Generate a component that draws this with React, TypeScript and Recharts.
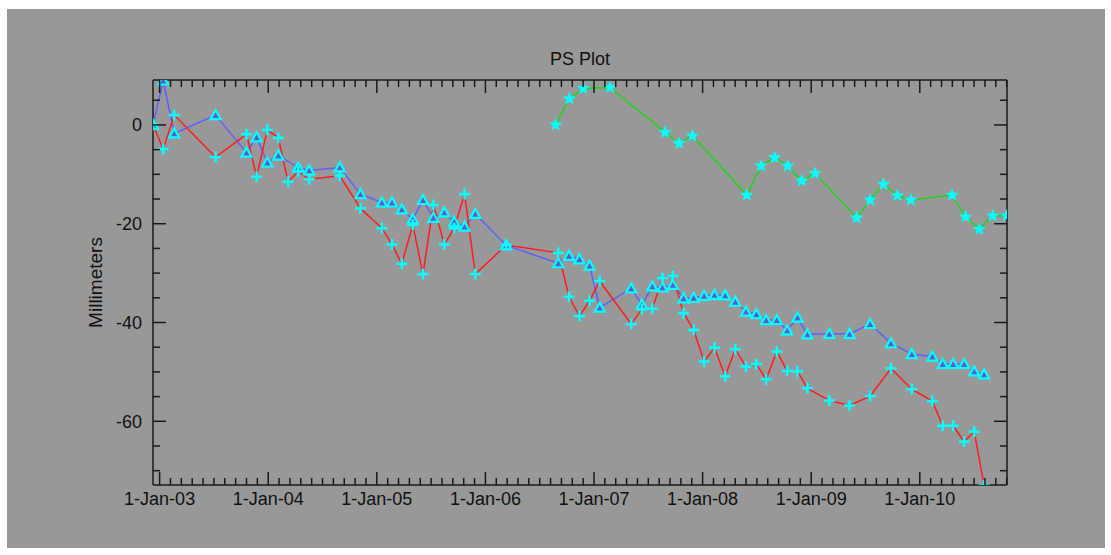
import { LineChart, Line, XAxis, YAxis } from 'recharts'

// red (+) and blue (triangle) series share the same survey dates
const surveyDates = [
  '2002-12-10', '2003-01-13', '2003-02-19', '2003-07-08', '2003-10-20', '2003-11-23', '2003-12-29',
  '2004-02-04', '2004-03-08', '2004-04-11', '2004-05-18', '2004-08-29', '2004-11-07',
  '2005-01-18', '2005-02-21', '2005-03-26', '2005-05-02', '2005-06-05', '2005-07-10', '2005-08-16',
  '2005-09-18', '2005-10-23', '2005-11-28', '2006-03-12', '2006-09-03', '2006-10-09', '2006-11-13',
  '2006-12-17', '2007-01-20', '2007-05-06', '2007-06-11', '2007-07-16', '2007-08-19', '2007-09-23',
  '2007-10-29', '2007-12-02', '2008-01-06', '2008-02-10', '2008-03-17', '2008-04-20', '2008-05-26',
  '2008-06-30', '2008-08-02', '2008-09-07', '2008-10-12', '2008-11-16', '2008-12-19', '2009-03-03',
  '2009-05-10', '2009-07-18', '2009-09-26', '2009-12-05', '2010-02-12', '2010-03-19', '2010-04-23',
  '2010-05-30', '2010-07-03', '2010-08-05',
]

const redValues = [
  0, -4.9, 2, -6.5, -1.9, -10.5, -1,
  -2.6, -11.5, -9.4, -11, -10.3, -16.9,
  -20.9, -24.2, -28.1, -20.2, -30.2, -16.2, -24.2,
  -20.9, -14, -30.2, -24.3, -25.9, -34.8, -38.7,
  -35.6, -31.6, -40.3, -37.3, -37.2, -31, -30.6,
  -38.1, -41.5, -47.9, -45.1, -50.9, -45.4, -48.9,
  -48.4, -51.5, -45.9, -49.8, -49.9, -53.3, -55.8,
  -56.8, -54.9, -49.3, -53.5, -55.9, -60.9, -60.9,
  -64.1, -62.1, -73,
]

const blueValues = [
  0, 9, -1.7, 2, -5.6, -2.5, -7.6,
  -6.2, null, -8.6, -9.2, -8.6, -14,
  -15.7, -15.7, -17.1, -19.1, -15.2, -18.8, -17.7,
  -19.6, -20.6, -18, -24.4, -28, -26.5, -27.2,
  -28.5, -37, -33.1, -36.4, -32.7, -32.9, -32.4,
  -35.1, -35, -34.6, -34.4, -34.5, -35.8, -37.8,
  -38.3, -39.5, -39.5, -41.6, -39, -42.4, -42.3,
  -42.3, -40.3, -44.2, -46.4, -46.9, -48.4, -48.4,
  -48.4, -49.9, -50.5,
]

// green (star) series
const greenDates = [
  '2006-08-25', '2006-10-10', '2006-11-26', '2007-02-24', '2007-08-28', '2007-10-14', '2007-11-28',
  '2008-05-29', '2008-07-16', '2008-08-31', '2008-10-14', '2008-11-30', '2009-01-14', '2009-06-03',
  '2009-07-18', '2009-09-01', '2009-10-18', '2009-12-02', '2010-04-20', '2010-06-04', '2010-07-20',
  '2010-09-03', '2010-10-20',
]

const greenValues = [
  0, 5.3, 7.4, 7.6, -1.5, -3.7, -2.2,
  -14.2, -8.3, -6.6, -8.3, -11.3, -9.8, -18.8,
  -15.2, -12, -14.3, -15.2, -14.2, -18.6, -21.1,
  -18.4, -18.4,
]

const majorYears = [2003, 2004, 2005, 2006, 2007, 2008, 2009, 2010]
const yMajor = [0, -20, -40, -60]

const X_DOMAIN: [number, number] = [2002.939, 2010.803]
const Y_DOMAIN: [number, number] = [-72.9, 9.1]

const toYear = (d: string) => {
  const [y, m, dd] = d.split('-').map(Number)
  const start = Date.UTC(y, 0, 1)
  const end = Date.UTC(y + 1, 0, 1)
  return y + (Date.UTC(y, m - 1, dd) - start) / (end - start)
}

const mainData = surveyDates.map((d, i) => ({ t: toYear(d), red: redValues[i], blue: blueValues[i] }))
const greenData = greenDates.map((d, i) => ({ t: toYear(d), green: greenValues[i] }))

// minor ticks every tenth of a year, every 5 mm
const xTicks: number[] = []
for (let k = 2002 * 10; k <= 2011 * 10; k++) {
  const v = k / 10
  if (v >= X_DOMAIN[0] && v <= X_DOMAIN[1] + 1e-6) xTicks.push(v)
}
const yTicks: number[] = []
for (let v = -70; v <= 5; v += 5) yTicks.push(v)

const AXIS = '#1a1a1a'
const CYAN = '#00ffff'
const FONT = '"Liberation Sans", Arial, sans-serif'

const isMajorX = (v: number) => majorYears.some((y) => Math.abs(y - v) < 1e-6)

const XTick = ({ x, y, payload, side }: any) => {
  const major = isMajorX(payload.value)
  const len = major ? 13 : 7
  const dir = side === 'bottom' ? -1 : 1
  const yr = Math.round(payload.value) % 100
  return (
    <g>
      <line x1={x} x2={x} y1={y} y2={y + dir * len} stroke={AXIS} strokeWidth={1.5} />
      {major && side === 'bottom' && (
        <text x={x} y={y + 20} textAnchor="middle" fontSize={18} fontFamily={FONT} fill="#111">
          {`1-Jan-${String(yr).padStart(2, '0')}`}
        </text>
      )}
    </g>
  )
}

const YTick = ({ x, y, payload, side }: any) => {
  const major = yMajor.includes(payload.value)
  const len = major ? 13 : 7
  const dir = side === 'left' ? 1 : -1
  return (
    <g>
      <line x1={x} x2={x + dir * len} y1={y} y2={y} stroke={AXIS} strokeWidth={1.5} />
      {major && side === 'left' && (
        <text x={x - 11} y={y + 6.5} textAnchor="end" fontSize={18} fontFamily={FONT} fill="#111">
          {payload.value}
        </text>
      )}
    </g>
  )
}

const PlusDot = ({ cx, cy }: any) => {
  if (cx == null || cy == null) return null
  return (
    <g>
      <line x1={cx - 5.5} x2={cx + 5.5} y1={cy} y2={cy} stroke={CYAN} strokeWidth={2.5} />
      <line x1={cx} x2={cx} y1={cy - 5.5} y2={cy + 5.5} stroke={CYAN} strokeWidth={2.5} />
    </g>
  )
}

const TriDot = ({ cx, cy }: any) => {
  if (cx == null || cy == null) return null
  return (
    <polygon
      points={`${cx - 5},${cy + 4} ${cx + 5},${cy + 4} ${cx},${cy - 5}`}
      fill="#5c5cc8"
      stroke={CYAN}
      strokeWidth={2.2}
    />
  )
}

const StarDot = ({ cx, cy }: any) => {
  if (cx == null || cy == null) return null
  const pts: string[] = []
  for (let i = 0; i < 10; i++) {
    const r = i % 2 === 0 ? 7 : 3
    const a = -Math.PI / 2 + (i * Math.PI) / 5
    pts.push(`${cx + r * Math.cos(a)},${cy + r * Math.sin(a)}`)
  }
  return <polygon points={pts.join(' ')} fill={CYAN} />
}

export default function App() {
  return (
    <div style={{ position: 'absolute', left: 7, top: 9, width: 1098, height: 539, background: '#989898' }}>
      <LineChart width={1098} height={539} margin={{ top: 70, right: 97, bottom: 62, left: 145 }}>
        <text x={573} y={56} textAnchor="middle" fontSize={18} fontFamily={FONT} fill="#111">
          PS Plot
        </text>
        <text
          x={95}
          y={273.5}
          transform="rotate(-90 95 273.5)"
          textAnchor="middle"
          fontSize={19}
          fontFamily={FONT}
          fill="#111"
        >
          Millimeters
        </text>
        <XAxis
          xAxisId="b"
          dataKey="t"
          type="number"
          domain={X_DOMAIN}
          allowDataOverflow
          ticks={xTicks}
          interval={0}
          height={1}
          tickSize={0}
          tickMargin={0}
          axisLine={{ stroke: AXIS, strokeWidth: 1.5 }}
          tickLine={false}
          tick={(p: any) => <XTick {...p} side="bottom" />}
        />
        <XAxis
          xAxisId="t"
          orientation="top"
          dataKey="t"
          type="number"
          domain={X_DOMAIN}
          allowDataOverflow
          ticks={xTicks}
          interval={0}
          height={1}
          tickSize={0}
          tickMargin={0}
          axisLine={{ stroke: AXIS, strokeWidth: 1.5 }}
          tickLine={false}
          tick={(p: any) => <XTick {...p} side="top" />}
        />
        <YAxis
          yAxisId="l"
          type="number"
          domain={Y_DOMAIN}
          allowDataOverflow
          ticks={yTicks}
          interval={0}
          width={1}
          tickSize={0}
          tickMargin={0}
          axisLine={{ stroke: AXIS, strokeWidth: 1.5 }}
          tickLine={false}
          tick={(p: any) => <YTick {...p} side="left" />}
        />
        <YAxis
          yAxisId="r"
          orientation="right"
          type="number"
          domain={Y_DOMAIN}
          allowDataOverflow
          ticks={yTicks}
          interval={0}
          width={1}
          tickSize={0}
          tickMargin={0}
          axisLine={{ stroke: AXIS, strokeWidth: 1.5 }}
          tickLine={false}
          tick={(p: any) => <YTick {...p} side="right" />}
        />
        <Line
          xAxisId="b"
          yAxisId="l"
          data={mainData}
          dataKey="blue"
          type="linear"
          stroke="#5f5fff"
          strokeWidth={1.5}
          connectNulls
          dot={(p: any) => <TriDot key={`b${p.index}`} {...p} />}
          activeDot={false}
          isAnimationActive={false}
        />
        <Line
          xAxisId="b"
          yAxisId="l"
          data={mainData}
          dataKey="red"
          type="linear"
          stroke="#ff1c1c"
          strokeWidth={1.5}
          dot={(p: any) => <PlusDot key={`r${p.index}`} {...p} />}
          activeDot={false}
          isAnimationActive={false}
        />
        <Line
          xAxisId="b"
          yAxisId="l"
          data={greenData}
          dataKey="green"
          type="linear"
          stroke="#1fd41f"
          strokeWidth={1.5}
          dot={(p: any) => <StarDot key={`g${p.index}`} {...p} />}
          activeDot={false}
          isAnimationActive={false}
        />
      </LineChart>
    </div>
  )
}
